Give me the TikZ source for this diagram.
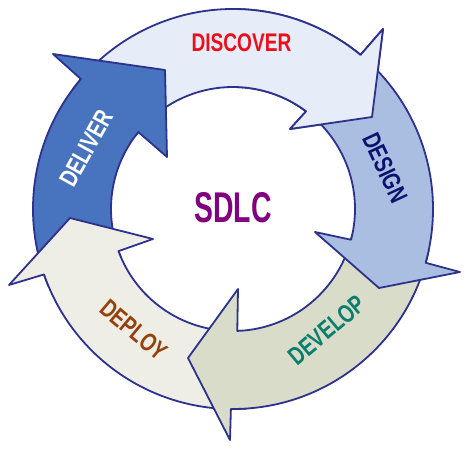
\documentclass[tikz,border=0pt]{standalone}
\usepackage{fontspec}
\setmainfont{Liberation Sans}
\newfontfamily\condfont{Liberation Sans}[FakeStretch=0.75]
\newfontfamily\sdlcfont{Liberation Sans}[FakeStretch=0.66]
\usetikzlibrary{calc}
\definecolor{edgecol}{HTML}{2D328C}
\definecolor{discfill}{HTML}{E6ECF8}
\definecolor{desfill}{HTML}{AABEE2}
\definecolor{devfill}{HTML}{D8DCC8}
\definecolor{depfill}{HTML}{EEEEE6}
\definecolor{delfill}{HTML}{4873BE}
\definecolor{disctext}{HTML}{E8101A}
\definecolor{destext}{HTML}{0A1470}
\definecolor{devtext}{HTML}{0A7D6E}
\definecolor{deptext}{HTML}{96400C}
\definecolor{sdlctext}{HTML}{800080}
\newcommand{\discpath}{(-143:200) arc[start angle=-143, end angle=-50.4, radius=200] -- (150,-180) -- (139,-92) -- (57,-80) -- (-53.2:122) arc[start angle=-53.2, end angle=-143, radius=122] -- cycle}
\begin{document}
\begin{tikzpicture}[x=1pt,y=-1pt,
  arrowshape/.style={draw=edgecol, line width=1.8pt, line join=round},
  lbl/.style={inner sep=0pt, font=\condfont\bfseries\fontsize{25.5}{26}\selectfont}]
\useasboundingbox (0,0) rectangle (470,449);
\fill[white] (0,0) rectangle (470,449);
\begin{scope}[shift={(233,209)}]
  % DISCOVER (tail under DELIVER)
  \path[arrowshape, fill=discfill] \discpath;
  % DELIVER
  \path[arrowshape, fill=delfill] (157:200) arc[start angle=157, end angle=220.5, radius=200] -- (-180,-155) -- (-68,-139) -- (-66,-52) -- (219.1:122) arc[start angle=219.1, end angle=157, radius=122] -- cycle;
  % DEPLOY
  \path[arrowshape, fill=depfill] (86:200) arc[start angle=86, end angle=160.9, radius=200] -- (-224,76) -- (-163,9) -- (-80,30) -- (159.8:122) arc[start angle=159.8, end angle=86, radius=122] -- cycle;
  % DEVELOP
  \path[arrowshape, fill=devfill] (12:200) arc[start angle=12, end angle=90.6, radius=200] -- (-3,231) -- (-45,149) -- (5,80) -- (88:122) arc[start angle=88, end angle=12, radius=122] -- cycle;
  % DESIGN
  \path[arrowshape, fill=desfill] (-56:200) arc[start angle=-56, end angle=15.6, radius=200] -- (227,63) -- (146,79) -- (82,23) -- (14.6:122) arc[start angle=14.6, end angle=-56, radius=122] -- cycle;
  % DISCOVER head again, on top of DESIGN tail
  \begin{scope}
    \clip (0,-260) rectangle (260,0);
    \path[arrowshape, fill=discfill] \discpath;
  \end{scope}
\end{scope}
\node[lbl, text=disctext] (discover) at (241.5,43) {DISCOVER};
\node[lbl, text=destext, rotate=-65] (design) at (385,168) {DESIGN};
\node[lbl, text=devtext, rotate=40] (develop) at (327,330) {DEVELOP};
\node[lbl, text=deptext, rotate=-40] (deploy) at (134,330) {DEPLOY};
\node[lbl, text=white, rotate=61] (deliver) at (86,148) {DELIVER};
\node[inner sep=0pt, text=sdlctext, font=\sdlcfont\bfseries\fontsize{43}{43}\selectfont] (sdlc) at (233,207.5) {SDLC};
\end{tikzpicture}
\end{document}
